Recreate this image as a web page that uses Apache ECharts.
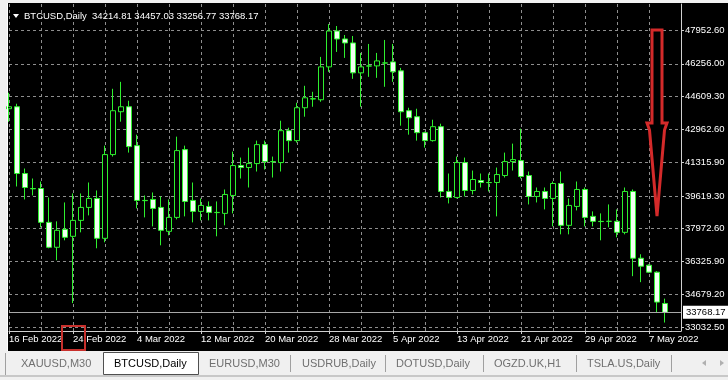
<!DOCTYPE html>
<html><head><meta charset="utf-8">
<script src="https://cdn.jsdelivr.net/npm/echarts@6/dist/echarts.min.js"></script>
<style>
html,body{margin:0;padding:0;background:#f0f0f0;}
#wrap{position:relative;width:728px;height:380px;overflow:hidden;background:#f0f0f0;}
#bg{position:absolute;left:8px;top:3px;width:720px;height:348px;background:#000;}
#chart{position:absolute;left:0;top:0;width:728px;height:380px;}
</style></head><body>
<div id="wrap"><div id="bg"></div><div id="chart"></div></div>
<script>
const symbol = 'BTCUSD,Daily';
const dates = [
'2022-02-16','2022-02-17','2022-02-18','2022-02-19','2022-02-20','2022-02-21','2022-02-22','2022-02-23','2022-02-24','2022-02-25','2022-02-26','2022-02-27','2022-02-28',
'2022-03-01','2022-03-02','2022-03-03','2022-03-04','2022-03-05','2022-03-06','2022-03-07','2022-03-08','2022-03-09','2022-03-10','2022-03-11','2022-03-12','2022-03-13','2022-03-14','2022-03-15','2022-03-16','2022-03-17','2022-03-18','2022-03-19','2022-03-20','2022-03-21','2022-03-22','2022-03-23','2022-03-24','2022-03-25','2022-03-26','2022-03-27','2022-03-28','2022-03-29','2022-03-30','2022-03-31',
'2022-04-01','2022-04-02','2022-04-03','2022-04-04','2022-04-05','2022-04-06','2022-04-07','2022-04-08','2022-04-09','2022-04-10','2022-04-11','2022-04-12','2022-04-13','2022-04-14','2022-04-15','2022-04-16','2022-04-17','2022-04-18','2022-04-19','2022-04-20','2022-04-21','2022-04-22','2022-04-23','2022-04-24','2022-04-25','2022-04-26','2022-04-27','2022-04-28','2022-04-29','2022-04-30',
'2022-05-01','2022-05-02','2022-05-03','2022-05-04','2022-05-05','2022-05-06','2022-05-07','2022-05-08','2022-05-09','2022-05-10','2022-05-11'
];
const open = [43997,44097,40743,39990,39991,38289,37037,37939,37588,38389,
39040,39491,37488,41694,43847,44097,42144,39391,39441,39040,
37838,38539,41944,39391,38840,39090,38790,38740,39641,41143,
41043,41243,42195,41343,41293,42895,42395,44047,44498,44448,
46100,47902,47502,47302,45800,46150,46150,46300,46350,45900,
43897,43597,42795,42395,43096,39841,39541,41293,39891,40392,
40292,40292,40642,41343,41393,40642,39591,39841,39491,40242,
38139,39090,39941,38590,38339,38339,38339,37788,39841,36487,
36136,35786,34214.81];
const high = [44798,44248,40993,40492,40342,39541,38339,39290,39741,39741,
40292,39891,42144,44999,45349,44398,42695,39641,39791,39591,
39441,42595,42144,40292,39491,39340,39340,39941,41844,41544,
42044,42395,42395,41594,43396,43046,44298,45149,44848,46601,
48253,48153,47702,47652,46801,47252,46801,47452,47252,46050,
44047,43997,42845,43446,43246,40743,41594,41544,40893,40743,
40743,41043,41794,42245,42996,40843,40041,40041,40342,40843,
39491,40342,40041,38840,38740,39190,38940,40041,39941,36687,
36186,35836,34457.03];
const low = [43346,40091,39441,39641,38039,36987,36386,37388,34233,37788,
38640,36987,37288,41594,43346,41794,38990,38539,38089,37137,
37638,38439,38590,38289,38389,38389,37588,38139,38740,40492,
40041,40843,40943,40542,40843,41794,42295,43597,44097,44348,
45850,46851,46551,45499,44097,45599,45549,45099,45349,43146,
42695,42395,42044,42345,39541,39240,39491,39591,39691,40041,
39841,38590,40542,40893,40492,39190,39290,38940,38089,37688,
37688,38890,38089,38089,37388,38039,37538,37688,35586,35285,
35760,33783,33256.77];
const close = [44097,40743,40041,39975,38289,37037,37889,37538,38389,39040,
39491,37488,41694,43897,44097,42094,39391,39380,38990,37889,
38539,41894,39340,38840,39140,38790,38780,39691,41143,41043,
41243,42195,41343,41335,42895,42395,44047,44548,44490,46100,
47902,47502,47302,45800,46100,46140,46400,46290,45850,43847,
43546,42795,42395,43096,39841,39541,41293,39891,40442,40292,
40285,40692,41343,41443,40592,39591,39841,39491,40242,38139,
39140,39941,38539,38339,38330,38345,37788,39841,36487,36086,
35786,34284,33768.17];
const priceTicks = [47952.60, 46256.00, 44609.30, 42962.60, 41315.90, 39619.30, 37972.60, 36325.90, 34679.20, 33032.50];
const tabs = ['XAUUSD,M30','BTCUSD,Daily','EURUSD,M30','USDRUB,Daily','DOTUSD,Daily','OGZD.UK,H1','TSLA.US,Daily'];
const activeTab = 1;

const MONTHS = ['Jan','Feb','Mar','Apr','May','Jun','Jul','Aug','Sep','Oct','Nov','Dec'];
const FONT = '"Liberation Sans", Arial, sans-serif';
const last = open.length - 1;
const ohlc = dates.map((d, i) => i < open.length ? [open[i], close[i], low[i], high[i]] : '-');

const green = '#2ef02e';
const gridCol = '#8e8e8e';

const tabX = [21, 114, 209, 302, 396, 494, 587];
const sepX = [290, 385, 483, 576, 671];
const graphics = [
  {type:'rect', shape:{x:7, y:3, width:1, height:348}, style:{fill:'#ffffff'}, z:50, silent:true},
  {type:'polygon', shape:{points:[[13,14],[19,14],[16,18]]}, style:{fill:'#ffffff'}, z:50},
  {type:'text', x:24, y:16, style:{text: symbol + '  ' + [open[last],high[last],low[last],close[last]].map(v=>v.toFixed(2)).join(' '),
     fill:'#ffffff', font:'9.5px ' + FONT, verticalAlign:'middle', textVerticalAlign:'middle'}, z:50},
  {type:'polygon', shape:{points:[[652,30],[662,30],[662,123],[667,123],[664.5,130],[657,216],[649.5,130],[647,123],[652,123]]},
     style:{fill:'#000000', stroke:'#d42a2a', lineWidth:3, lineJoin:'miter'}, z:60},
  {type:'rect', shape:{x:62, y:326, width:23, height:24}, style:{fill:'none', stroke:'#c8302c', lineWidth:2}, z:60},
  {type:'rect', shape:{x:0, y:351, width:728, height:29}, style:{fill:'#f0f0f0'}, z:40},
  {type:'rect', shape:{x:5, y:353, width:1, height:22}, style:{fill:'#a0a0a0'}, z:41},
  {type:'rect', shape:{x:0, y:375.5, width:728, height:1}, style:{fill:'#a0a0a0'}, z:41},
  {type:'rect', shape:{x:103.5, y:352.5, width:95, height:22}, style:{fill:'#ffffff', stroke:'#505050', lineWidth:1}, z:42},
  {type:'polygon', shape:{points:[[706,360],[706,366],[702,363]]}, style:{fill:'#b0b0b0'}, z:43},
  {type:'polygon', shape:{points:[[720,360],[720,366],[724,363]]}, style:{fill:'#b0b0b0'}, z:43}
];
sepX.forEach(x => graphics.push({type:'rect', shape:{x:x, y:355, width:1, height:17}, style:{fill:'#a0a0a0'}, z:43}));
tabs.forEach((t, i) => graphics.push({type:'text', x: tabX[i], y: 364,
  style:{text:t, fill: i === activeTab ? '#000000' : '#707070', font:'11px ' + FONT, verticalAlign:'middle', textVerticalAlign:'middle'}, z:44}));

const chart = echarts.init(document.getElementById('chart'), null, {renderer:'canvas'});
chart.setOption({
  animation: false,
  backgroundColor: 'transparent',
  grid: {left: 9, right: 47, top: 4, bottom: 49},
  xAxis: {
    type: 'category', data: dates, boundaryGap: false,
    axisLine: {show: true, lineStyle: {color: '#d0d0d0', width: 1}},
    axisTick: {show: true, interval: 7, length: 3, lineStyle: {color: '#d0d0d0'}},
    axisLabel: {show: true, interval: 7, align: 'left', margin: 3, color: '#ffffff', fontSize: 9.5, fontFamily: FONT,
      formatter: v => { const p = v.split('-'); return (+p[2]) + ' ' + MONTHS[+p[1]-1] + ' ' + p[0]; }},
    splitLine: {show: true, interval: 3, lineStyle: {color: gridCol, type: [3, 3], width: 1}}
  },
  yAxis: {
    type: 'value', position: 'right', min: 32831.9, max: 49258.7,
    axisLine: {show: true, lineStyle: {color: '#d0d0d0', width: 1}},
    axisTick: {show: true, length: 3, customValues: priceTicks, lineStyle: {color: '#d0d0d0'}},
    axisLabel: {show: true, customValues: priceTicks, margin: 4, color: '#ffffff', fontSize: 9.5, fontFamily: FONT,
      formatter: v => v.toFixed(2)},
    splitLine: {show: true, lineStyle: {color: gridCol, type: [3, 3], width: 1}}
  },
  series: [{
    type: 'candlestick', data: ohlc, barWidth: 5, clip: true,
    itemStyle: {color: '#000000', color0: '#f0fff0', borderColor: green, borderColor0: green, borderWidth: 1},
    markLine: {
      silent: true, symbol: 'none', animation: false,
      lineStyle: {color: '#a8a8a8', type: 'solid', width: 1},
      label: {show: true, position: 'end', distance: 2, formatter: p => p.value.toFixed(2),
        backgroundColor: '#ffffff', color: '#000000', padding: [2, 4, 1, 3], fontSize: 9.5, fontFamily: FONT},
      data: [{yAxis: close[last]}]
    }
  }],
  graphic: {elements: graphics}
});
</script>
</body></html>
